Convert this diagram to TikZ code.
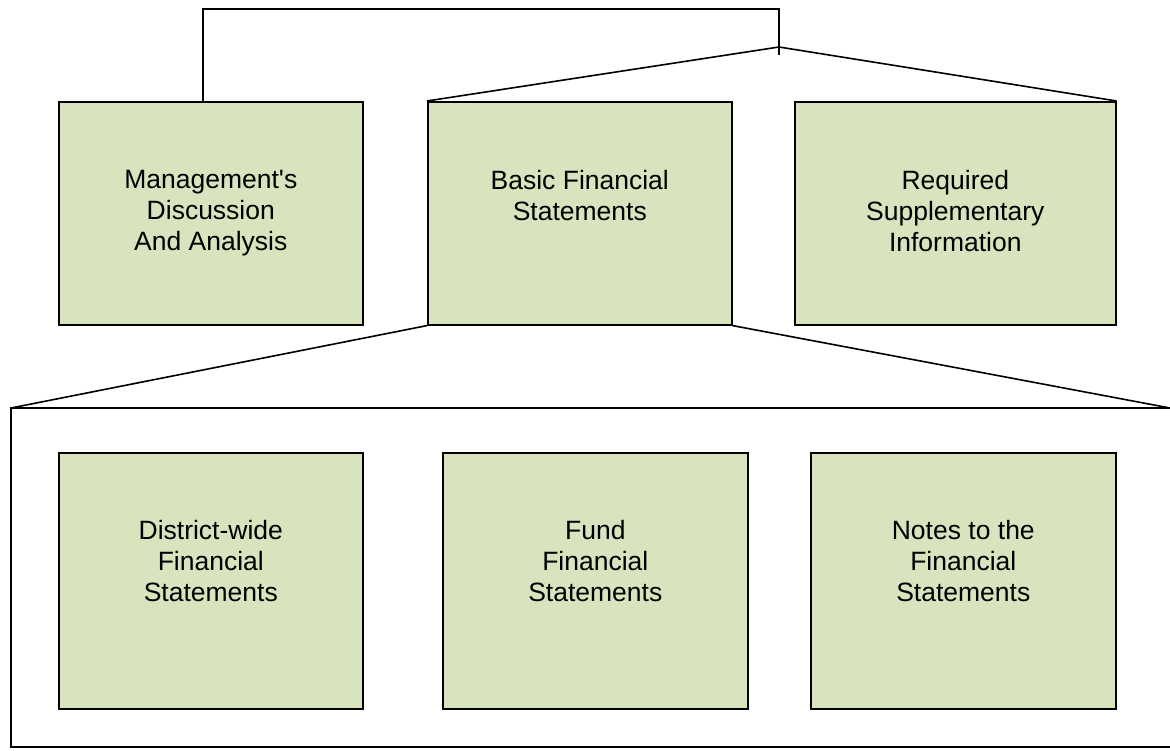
\documentclass[tikz,border=0pt]{standalone}
\usepackage{fontspec}
\newfontfamily\plainsans{Liberation Sans}
\setmainfont{Liberation Sans}
\definecolor{boxgreen}{HTML}{D7E4BD}
\begin{document}
\begin{tikzpicture}[x=1pt,y=-1pt,
  box/.style={draw=black, fill=boxgreen, line width=1.6pt, inner sep=0pt, anchor=north west, minimum width=#1, minimum height=223pt},
  lowbox/.style={draw=black, fill=boxgreen, line width=1.6pt, inner sep=0pt, anchor=north west, minimum width=#1, minimum height=256pt},
  txt/.style={anchor=north, align=center, inner sep=0pt, font=\plainsans\fontsize{26.5pt}{31pt}\selectfont},
  conn/.style={draw=black, line width=1.6pt}]
\useasboundingbox (0,0) rectangle (1170,751);
% top row
\node[box=304pt] (b1) at (58,101) {};
\node[box=304pt] (b2) at (427,101) {};
\node[box=321pt] (b3) at (794,101) {};
% bottom row
\node[lowbox=304pt] (b4) at (58,452) {};
\node[lowbox=305pt] (b5) at (442,452) {};
\node[lowbox=305pt] (b6) at (810,452) {};
% texts
\node[txt] (t1) at ([yshift=-69pt]b1.north) {Management's\\Discussion\\And Analysis};
\node[txt] (t2) at ([yshift=-69pt]b2.north) {Basic Financial\\Statements};
\node[txt] (t3) at ([yshift=-69pt]b3.north) {Required\\Supplementary\\Information};
\node[txt] (t4) at ([yshift=-68pt]b4.north) {District-wide\\Financial\\Statements};
\node[txt] (t5) at ([yshift=-68pt]b5.north) {Fund\\Financial\\Statements};
\node[txt] (t6) at ([yshift=-68pt]b6.north) {Notes to the\\Financial\\Statements};
% coordinates
\coordinate (lt) at (203,101);
\coordinate (tr) at (779,9);
\coordinate (apex) at (779,47);
\coordinate (stub) at (779,55);
\coordinate (fl) at (11,408);
\coordinate (fr) at (1170,408);
\coordinate (bl) at (11,747);
\coordinate (br) at (1170,747);
% connectors
\draw[conn] (lt) |- (tr) -- (stub);
\draw[conn] (b2.north west) -- (apex) -- (b3.north east);
\draw[conn] (b2.south west) -- (fl);
\draw[conn] (b2.south east) -- (fr);
\draw[conn] (fr) -- (fl) -- (bl) -- (br);
\end{tikzpicture}
\end{document}
